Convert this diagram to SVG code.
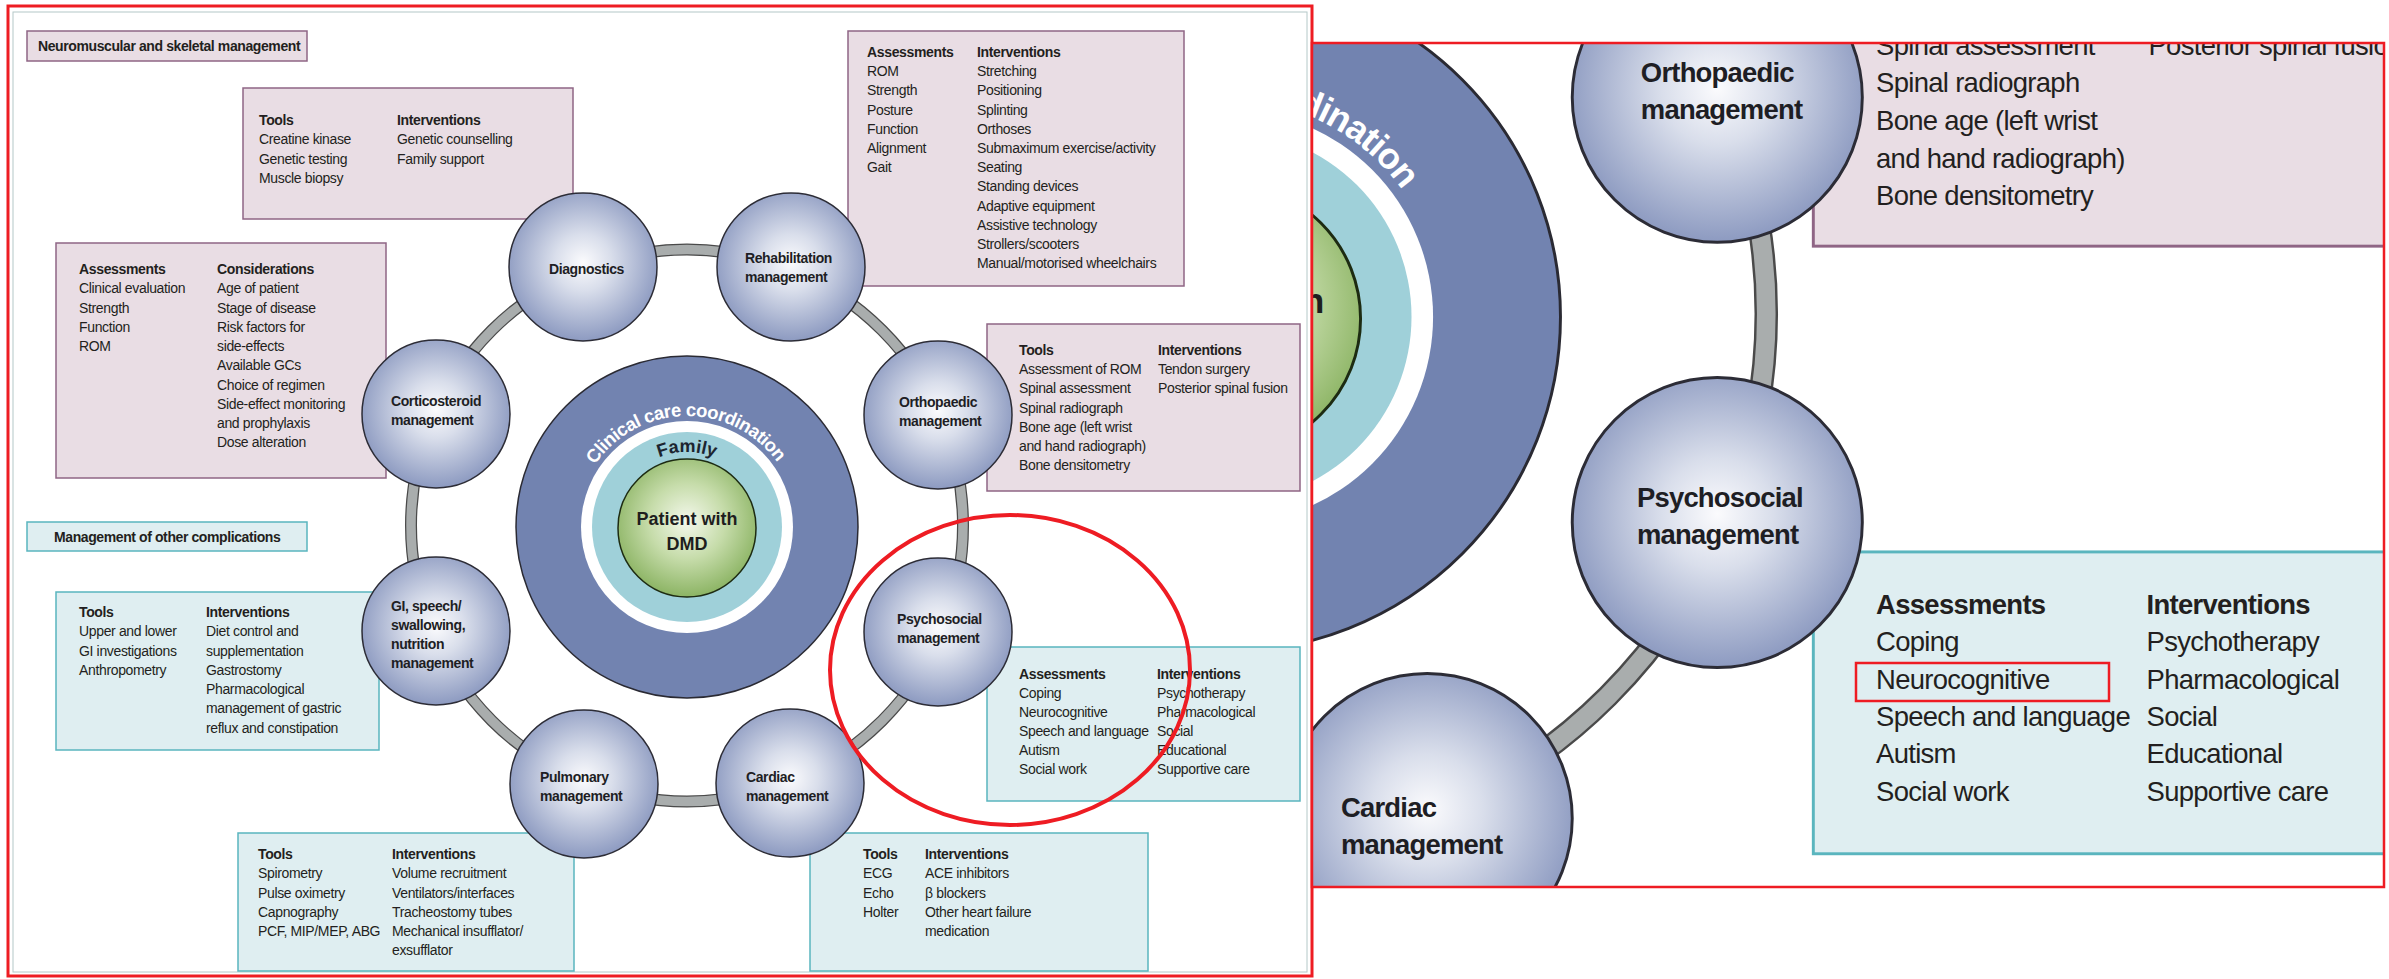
<svg xmlns="http://www.w3.org/2000/svg" xmlns:xlink="http://www.w3.org/1999/xlink" width="2389" height="979" viewBox="0 0 2389 979">
<style>
.t{font-family:"Liberation Sans",Arial,sans-serif;font-size:14px;letter-spacing:-0.35px;fill:#231f20}
.b{font-weight:bold}
.nl{font-family:"Liberation Sans",Arial,sans-serif;font-size:14px;font-weight:bold;letter-spacing:-0.4px;fill:#1e1e24}
.pink{fill:#e9dde4;stroke:#8f6585;stroke-width:1.5}
.teal{fill:#dfeef1;stroke:#5ab5be;stroke-width:1.5}
.node{fill:url(#ng);stroke:#2c2c36;stroke-width:1.5}
.red{fill:none;stroke:#ee1c23}
</style>
<defs>
<radialGradient id="ng" cx="0.5" cy="0.47" r="0.55">
<stop offset="0" stop-color="#fbfbfd"/>
<stop offset="0.35" stop-color="#d9deeb"/>
<stop offset="1" stop-color="#8896be"/>
</radialGradient>
<radialGradient id="gg" cx="0.5" cy="0.45" r="0.55">
<stop offset="0" stop-color="#f4f8ec"/>
<stop offset="0.5" stop-color="#c6dcaa"/>
<stop offset="1" stop-color="#8cb464"/>
</radialGradient>
<path id="arcC" d="M 576 527 A 111 111 0 0 1 798 527"/>
<path id="arcF" d="M 612 527 A 75 75 0 0 1 762 527"/>
<clipPath id="rpclip"><rect x="1312" y="43" width="1072" height="844"/></clipPath>
</defs>
<rect x="0" y="0" width="2389" height="979" fill="#ffffff"/>
<rect x="13" y="12" width="1294" height="960" fill="none" stroke="#b4c8c8" stroke-width="1"/>

<g id="content">
 <g id="section-labels">
  <g id="label-neuromuscular"><rect class="pink" x="27" y="31" width="280" height="30"/><text class="t b" x="38" y="51" style="letter-spacing:-0.4px">Neuromuscular and skeletal management</text></g>
  <g id="label-other"><rect class="teal" x="27" y="522" width="280" height="29"/><text class="t b" x="54" y="542" style="letter-spacing:-0.4px">Management of other complications</text></g>
 </g>

 <g id="box-diagnostics">
  <rect class="pink" x="243" y="88" width="330" height="131"/>
  <text class="t" x="259" y="125"><tspan class="b">Tools</tspan><tspan x="259" dy="19.25">Creatine kinase</tspan><tspan x="259" dy="19.25">Genetic testing</tspan><tspan x="259" dy="19.25">Muscle biopsy</tspan></text>
  <text class="t" x="397" y="125"><tspan class="b">Interventions</tspan><tspan x="397" dy="19.25">Genetic counselling</tspan><tspan x="397" dy="19.25">Family support</tspan></text>
 </g>

 <g id="box-rehabilitation">
  <rect class="pink" x="848" y="31" width="336" height="255"/>
  <text class="t" x="867" y="57"><tspan class="b">Assessments</tspan><tspan x="867" dy="19.2">ROM</tspan><tspan x="867" dy="19.2">Strength</tspan><tspan x="867" dy="19.2">Posture</tspan><tspan x="867" dy="19.2">Function</tspan><tspan x="867" dy="19.2">Alignment</tspan><tspan x="867" dy="19.2">Gait</tspan></text>
  <text class="t" x="977" y="57"><tspan class="b">Interventions</tspan><tspan x="977" dy="19.2">Stretching</tspan><tspan x="977" dy="19.2">Positioning</tspan><tspan x="977" dy="19.2">Splinting</tspan><tspan x="977" dy="19.2">Orthoses</tspan><tspan x="977" dy="19.2">Submaximum exercise/activity</tspan><tspan x="977" dy="19.2">Seating</tspan><tspan x="977" dy="19.2">Standing devices</tspan><tspan x="977" dy="19.2">Adaptive equipment</tspan><tspan x="977" dy="19.2">Assistive technology</tspan><tspan x="977" dy="19.2">Strollers/scooters</tspan><tspan x="977" dy="19.2">Manual/motorised wheelchairs</tspan></text>
 </g>

 <g id="box-corticosteroid">
  <rect class="pink" x="56" y="243" width="330" height="235"/>
  <text class="t" x="79" y="274"><tspan class="b">Assessments</tspan><tspan x="79" dy="19.25">Clinical evaluation</tspan><tspan x="79" dy="19.25">Strength</tspan><tspan x="79" dy="19.25">Function</tspan><tspan x="79" dy="19.25">ROM</tspan></text>
  <text class="t" x="217" y="274"><tspan class="b">Considerations</tspan><tspan x="217" dy="19.25">Age of patient</tspan><tspan x="217" dy="19.25">Stage of disease</tspan><tspan x="217" dy="19.25">Risk factors for</tspan><tspan x="217" dy="19.25">side-effects</tspan><tspan x="217" dy="19.25">Available GCs</tspan><tspan x="217" dy="19.25">Choice of regimen</tspan><tspan x="217" dy="19.25">Side-effect monitoring</tspan><tspan x="217" dy="19.25">and prophylaxis</tspan><tspan x="217" dy="19.25">Dose alteration</tspan></text>
 </g>

 <g id="box-orthopaedic">
  <rect class="pink" x="987" y="324" width="313" height="167"/>
  <text class="t" x="1019" y="355"><tspan class="b">Tools</tspan><tspan x="1019" dy="19.2">Assessment of ROM</tspan><tspan x="1019" dy="19.2">Spinal assessment</tspan><tspan x="1019" dy="19.2">Spinal radiograph</tspan><tspan x="1019" dy="19.2">Bone age (left wrist</tspan><tspan x="1019" dy="19.2">and hand radiograph)</tspan><tspan x="1019" dy="19.2">Bone densitometry</tspan></text>
  <text class="t" x="1158" y="355"><tspan class="b">Interventions</tspan><tspan x="1158" dy="19.2">Tendon surgery</tspan><tspan x="1158" dy="19.2">Posterior spinal fusion</tspan></text>
 </g>

 <g id="box-gi">
  <rect class="teal" x="56" y="592" width="323" height="158"/>
  <text class="t" x="79" y="617"><tspan class="b">Tools</tspan><tspan x="79" dy="19.25">Upper and lower</tspan><tspan x="79" dy="19.25">GI investigations</tspan><tspan x="79" dy="19.25">Anthropometry</tspan></text>
  <text class="t" x="206" y="617"><tspan class="b">Interventions</tspan><tspan x="206" dy="19.25">Diet control and</tspan><tspan x="206" dy="19.25">supplementation</tspan><tspan x="206" dy="19.25">Gastrostomy</tspan><tspan x="206" dy="19.25">Pharmacological</tspan><tspan x="206" dy="19.25">management of gastric</tspan><tspan x="206" dy="19.25">reflux and constipation</tspan></text>
 </g>

 <g id="box-psychosocial">
  <rect class="teal" x="987" y="647" width="313" height="154"/>
  <text class="t" x="1019" y="678.5"><tspan class="b">Assessments</tspan><tspan x="1019" dy="19.1">Coping</tspan><tspan x="1019" dy="19.1">Neurocognitive</tspan><tspan x="1019" dy="19.1">Speech and language</tspan><tspan x="1019" dy="19.1">Autism</tspan><tspan x="1019" dy="19.1">Social work</tspan></text>
  <text class="t" x="1157" y="678.5"><tspan class="b">Interventions</tspan><tspan x="1157" dy="19.1">Psychotherapy</tspan><tspan x="1157" dy="19.1">Pharmacological</tspan><tspan x="1157" dy="19.1">Social</tspan><tspan x="1157" dy="19.1">Educational</tspan><tspan x="1157" dy="19.1">Supportive care</tspan></text>
 </g>

 <g id="box-pulmonary">
  <rect class="teal" x="238" y="833" width="336" height="138"/>
  <text class="t" x="258" y="859"><tspan class="b">Tools</tspan><tspan x="258" dy="19.25">Spirometry</tspan><tspan x="258" dy="19.25">Pulse oximetry</tspan><tspan x="258" dy="19.25">Capnography</tspan><tspan x="258" dy="19.25">PCF, MIP/MEP, ABG</tspan></text>
  <text class="t" x="392" y="859"><tspan class="b">Interventions</tspan><tspan x="392" dy="19.25">Volume recruitment</tspan><tspan x="392" dy="19.25">Ventilators/interfaces</tspan><tspan x="392" dy="19.25">Tracheostomy tubes</tspan><tspan x="392" dy="19.25">Mechanical insufflator/</tspan><tspan x="392" dy="19.25">exsufflator</tspan></text>
 </g>

 <g id="box-cardiac">
  <rect class="teal" x="810" y="833" width="338" height="138"/>
  <text class="t" x="863" y="859"><tspan class="b">Tools</tspan><tspan x="863" dy="19.25">ECG</tspan><tspan x="863" dy="19.25">Echo</tspan><tspan x="863" dy="19.25">Holter</tspan></text>
  <text class="t" x="925" y="859"><tspan class="b">Interventions</tspan><tspan x="925" dy="19.25">ACE inhibitors</tspan><tspan x="925" dy="19.25">β blockers</tspan><tspan x="925" dy="19.25">Other heart failure</tspan><tspan x="925" dy="19.25">medication</tspan></text>
 </g>

 <g id="connectors">
  <circle cx="687" cy="525.5" r="276" fill="none" stroke="#4a4a4a" stroke-width="12"/>
  <circle cx="687" cy="525.5" r="276" fill="none" stroke="#a9adad" stroke-width="9.5"/>
 </g>

 <g id="core">
  <circle cx="687" cy="527" r="171" fill="#7283b0" stroke="#2a2a33" stroke-width="1.5"/>
  <circle cx="687" cy="527" r="106" fill="#ffffff"/>
  <circle cx="687" cy="527" r="95" fill="#9fd0d9"/>
  <circle cx="687" cy="528" r="69" fill="url(#gg)" stroke="#1d2b12" stroke-width="1.5"/>
  <text font-family="Liberation Sans, Arial, sans-serif" font-size="18.5" font-weight="bold" letter-spacing="-0.5" fill="#ffffff"><textPath href="#arcC" xlink:href="#arcC" startOffset="49.5%" text-anchor="middle">Clinical care coordination</textPath></text>
  <text font-family="Liberation Sans, Arial, sans-serif" font-size="18" font-weight="bold" fill="#1c2530"><textPath href="#arcF" xlink:href="#arcF" startOffset="50%" text-anchor="middle">Family</textPath></text>
  <text font-family="Liberation Sans, Arial, sans-serif" font-size="18" font-weight="bold" fill="#1e1e1e" text-anchor="middle"><tspan x="687" y="525">Patient with</tspan><tspan x="687" y="550">DMD</tspan></text>
 </g>

 <g id="node-diagnostics"><circle class="node" cx="583" cy="267" r="74"/><text class="nl" x="549" y="274">Diagnostics</text></g>
 <g id="node-rehabilitation"><circle class="node" cx="791" cy="267" r="74"/><text class="nl"><tspan x="745" y="263">Rehabilitation</tspan><tspan x="745" y="282">management</tspan></text></g>
 <g id="node-corticosteroid"><circle class="node" cx="436" cy="414" r="74"/><text class="nl"><tspan x="391" y="406">Corticosteroid</tspan><tspan x="391" y="425">management</tspan></text></g>
 <g id="node-orthopaedic"><circle class="node" cx="938" cy="415" r="74"/><text class="nl"><tspan x="899" y="407">Orthopaedic</tspan><tspan x="899" y="426">management</tspan></text></g>
 <g id="node-gi"><circle class="node" cx="436" cy="631" r="74"/><text class="nl"><tspan x="391" y="611">GI, speech/</tspan><tspan x="391" y="630">swallowing,</tspan><tspan x="391" y="649">nutrition</tspan><tspan x="391" y="668">management</tspan></text></g>
 <g id="node-psychosocial"><circle class="node" cx="938" cy="632" r="74"/><text class="nl"><tspan x="897" y="624">Psychosocial</tspan><tspan x="897" y="643">management</tspan></text></g>
 <g id="node-pulmonary"><circle class="node" cx="584" cy="784" r="74"/><text class="nl"><tspan x="540" y="782">Pulmonary</tspan><tspan x="540" y="801">management</tspan></text></g>
 <g id="node-cardiac"><circle class="node" cx="790" cy="783" r="74"/><text class="nl"><tspan x="746" y="782">Cardiac</tspan><tspan x="746" y="801">management</tspan></text></g>
</g>

<g id="annotations">
 <rect class="red" x="8" y="6" width="1304" height="970" stroke-width="3"/>
 <ellipse class="red" cx="1010" cy="670" rx="180" ry="155" stroke-width="4"/>
</g>

<g id="zoom-panel">
 <rect x="1312" y="43" width="1072" height="844" fill="#ffffff"/>
 <g clip-path="url(#rpclip)">
  <use href="#content" xlink:href="#content" transform="matrix(1.96 0 0 1.96 -121.2 -716.2)"/>
 </g>
 <rect class="red" x="1312" y="43" width="1072" height="844" stroke-width="2.5"/>
 <rect class="red" x="1856" y="663" width="253" height="38" stroke-width="2.5"/>
</g>
</svg>
